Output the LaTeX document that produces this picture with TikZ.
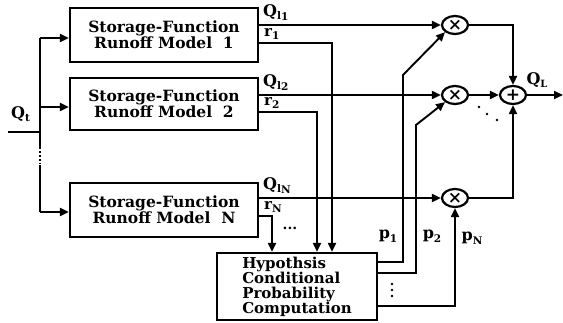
\documentclass[tikz,border=0pt]{standalone}
\usepackage{fontspec}
\setmainfont{DejaVu Serif}
\usetikzlibrary{arrows.meta,shapes.geometric,calc}
\newcommand\qlab[1]{{\fontsize{16}{16}\selectfont Q}\raisebox{-3.5pt}{\fontsize{10.5}{10.5}\selectfont l\raisebox{-1pt}{#1}}}
\newcommand\plab[1]{{\fontsize{16}{16}\selectfont p}\raisebox{-3.5pt}{\fontsize{10.5}{10.5}\selectfont #1}}
\newcommand\rlab[1]{{\fontsize{15}{15}\selectfont r}\raisebox{-3pt}{\fontsize{10.5}{10.5}\selectfont #1}}
\begin{document}
\begin{tikzpicture}[x=1pt,y=-1pt,
  font=\bfseries,
  ln/.style={line width=1.9pt},
  arr/.style={ln,-{Triangle[length=9pt,width=8pt]}},
  model/.style={draw,line width=2.2pt,minimum width=188pt,minimum height=54pt,align=center,
    font=\fontsize{15.5}{16}\selectfont\bfseries,inner sep=0pt},
  hypbox/.style={draw,line width=2.2pt,minimum width=160pt,minimum height=67pt,align=left,
    font=\fontsize{15}{15}\selectfont\bfseries,inner sep=0pt},
  mult/.style={draw,ellipse,line width=2.2pt,minimum width=26pt,minimum height=18pt,inner sep=0pt,
    font=\fontsize{17}{17}\selectfont\bfseries},
  lab/.style={inner sep=0pt,font=\bfseries}
]
\useasboundingbox (0,0) rectangle (563,323);

% nodes
\node[model] (m1) at (164,35) {Storage-Function\\Runoff Model\ \ 1};
\node[model,minimum height=52pt] (m2) at (164,104) {Storage-Function\\Runoff Model\ \ 2};
\node[model] (mN) at (164,210) {Storage-Function\\Runoff Model\ \ N};
\node[hypbox] (hyp) at (297,286.5) {Hypothsis\\Conditional\\Probability\\Computation};
\node[mult] (x1) at (455,25) {×};
\node[mult] (x2) at (455,95) {×};
\node[mult] (xN) at (455,198) {×};
\node[mult] (sum) at (513,95) {+};

% input
\coordinate (qin) at (8,132);
\coordinate (bj) at (40,132);
\coordinate (b1) at (40,38);
\coordinate (b2) at (40,107);
\coordinate (bd1) at (40,147);
\coordinate (bd2) at (40,165);
\coordinate (bN) at (40,212);
\coordinate (qout) at (563,95);
\draw[ln] (qin) -- (bj);
\draw[ln] (b1) -- (bd1);
\draw[ln,dotted] (bd1) -- (bd2);
\draw[ln] (bd2) -- (bN);
\draw[arr] (b1) -- (b1 -| m1.west);
\draw[arr] (b2) -- (b2 -| m2.west);
\draw[arr] (bN) -- (bN -| mN.west);
\node[lab,anchor=south west] (qt) at (11,122) {{\fontsize{16}{16}\selectfont Q}\raisebox{-3.5pt}{\fontsize{10.5}{10.5}\selectfont t}};

% Q lines
\draw[arr] (m1.east |- x1) -- (x1.west);
\draw[arr] (m2.east |- x2) -- (x2.west);
\draw[arr] (mN.east |- xN) -- (xN.west);
\node[lab,anchor=south west] (q1) at (263,21) {\qlab{1}};
\node[lab,anchor=south west] (q2) at (263,91) {\qlab{2}};
\node[lab,anchor=south west] (qN) at (263,194) {\qlab{N}};

% r lines
\draw[arr] (m1.east |- 0,43) -| (hyp.north -| 332,0);
\draw[arr] (m2.east |- 0,112) -| (hyp.north -| 317,0);
\draw[arr] (mN.east |- 0,216) -| (hyp.north -| 272,0);
\node[lab,anchor=south west] (r1) at (264,40) {\rlab{1}};
\node[lab,anchor=south west] (r2) at (264,109) {\rlab{2}};
\node[lab,anchor=south west] (rN) at (264,213) {\rlab{N}};
\node[lab] (rdots) at (290,228) {\fontsize{14}{14}\selectfont ...};

% p lines
\draw[arr] (hyp.east |- 0,262) -- (403,262) -- (403,75) -- (x1.south west);
\draw[arr] (hyp.east |- 0,273) -- (416,273) -- (416,125) -- (x2.south west);
\draw[arr] (hyp.east |- 0,306) -| (xN.south);
\node[lab] (p1) at (388,236) {\plab{1}};
\node[lab] (p2) at (432,236) {\plab{2}};
\node[lab] (pN) at (472,238) {\plab{N}};
\foreach \yy in {284,290,296} \fill (392,\yy) circle (1.3pt);

% to sum
\draw[arr] (x1.east) -| (sum.north);
\draw[arr] (x2.east) -- (sum.west);
\draw[arr] (xN.east) -| (sum.south);
\draw[arr] (sum.east) -- (qout);
\node[lab] (ql) at (537,80) {{\fontsize{16}{16}\selectfont Q}\raisebox{-3.5pt}{\fontsize{10}{10}\selectfont L}};
\foreach \p in {(479,107),(487,114),(497,120)} \fill \p circle (1.4pt);
\end{tikzpicture}
\end{document}
